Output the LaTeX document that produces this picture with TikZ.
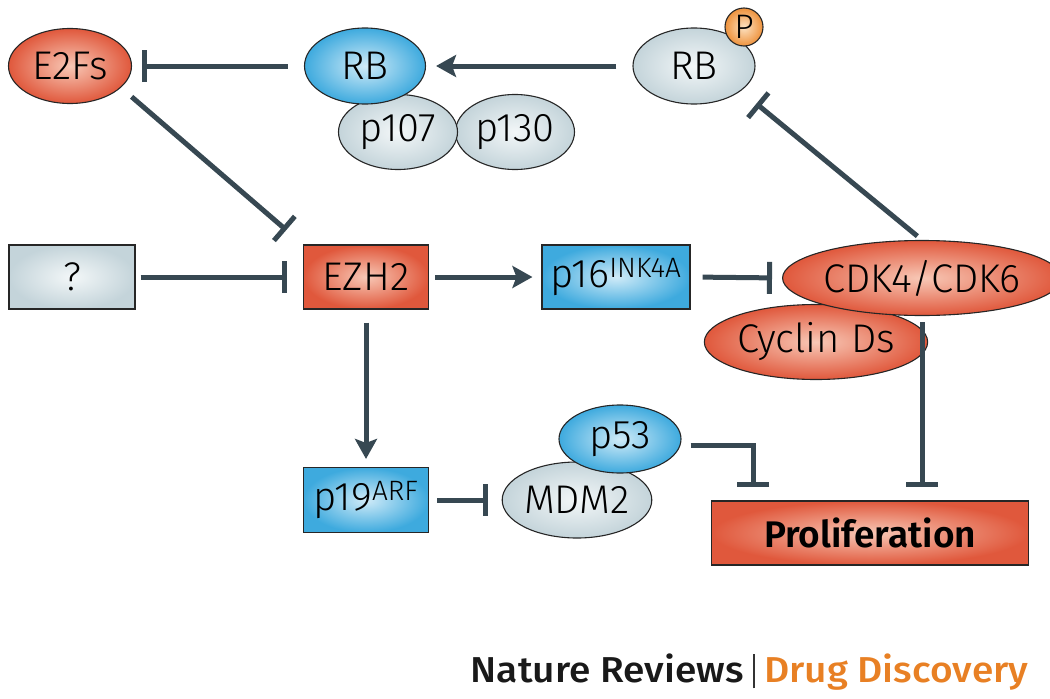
\documentclass[tikz,border=0pt]{standalone}
\usepackage{fontspec}
\setmainfont{Fira Sans}[UprightFont={* Light},BoldFont={* SemiBold}]
\newfontfamily\footfont{Fira Sans}[UprightFont={* Medium},FakeStretch=1.08]
\usetikzlibrary{shapes.geometric,arrows.meta}
\definecolor{lineclr}{RGB}{55,72,82}
\definecolor{redout}{RGB}{224,88,60}
\definecolor{redin}{RGB}{248,200,182}
\definecolor{blueout}{RGB}{62,170,222}
\definecolor{bluein}{RGB}{208,235,248}
\definecolor{grayout}{RGB}{196,212,218}
\definecolor{grayin}{RGB}{243,247,248}
\definecolor{pout}{RGB}{238,146,60}
\definecolor{pin}{RGB}{252,226,194}
\definecolor{ndorange}{RGB}{232,128,36}

\begin{document}
\begin{tikzpicture}
  [x=1pt,y=-1pt,
   every node/.style={draw=black!85,line width=1.1pt,inner sep=0pt,font=\fontsize{40}{42}\selectfont},
   ell/.style={ellipse},
   box/.style={rectangle},
   redfill/.style={inner color=redin,outer color=redout},
   bluefill/.style={inner color=bluein,outer color=blueout},
   grayfill/.style={inner color=grayin,outer color=grayout},
   act/.style={draw=lineclr,line width=5pt,-{Stealth[length=20pt,width=22pt,inset=4pt]}},
   inh/.style={draw=lineclr,line width=5pt,-{Bar[width=32pt]}}]
  \useasboundingbox (0,0) rectangle (1050,699);

  \node[ell,redfill,minimum width=123pt,minimum height=75pt] (e2f) at (70,66) {E2Fs};
  \node[ell,grayfill,minimum width=119pt,minimum height=75pt] (p130) at (515,132) {p130};
  \node[ell,grayfill,minimum width=119pt,minimum height=75pt] (p107) at (398,132) {p107};
  \node[ell,bluefill,minimum width=121pt,minimum height=76pt] (rb) at (365,66) {RB};
  \node[ell,grayfill,minimum width=122pt,minimum height=76pt] (rbp) at (694,66) {RB};
  \node[circle,inner color=pin,outer color=pout,minimum size=38pt,font=\fontsize{34}{36}\selectfont] (pho) at (744,27) {P};

  \node[box,grayfill,minimum width=126pt,minimum height=64pt] (q) at (72,277) {?};
  \node[box,redfill,minimum width=125pt,minimum height=64pt] (ezh) at (366,277) {EZH2};
  \node[box,bluefill,minimum width=148pt,minimum height=64pt] (p16) at (616,277) {p16\textsuperscript{INK4A}};
  \node[ell,redfill,minimum width=188pt,minimum height=75pt] (cyc) at (816,342) {Cyclin Ds};
  \node[ell,redfill,minimum width=235pt,minimum height=75pt] (cdk) at (922,278) {CDK4/CDK6};

  \node[box,bluefill,minimum width=125pt,minimum height=65pt] (p19) at (366,500) {p19\textsuperscript{ARF}};
  \node[ell,grayfill,minimum width=149pt,minimum height=76pt] (mdm) at (577,500) {MDM2};
  \node[ell,bluefill,minimum width=122pt,minimum height=68pt] (p53) at (620,439) {p53};
  \node[box,redfill,minimum width=317pt,minimum height=64pt,font=\fontsize{37}{39}\selectfont\bfseries] (prol) at (870,533) {Proliferation};

  \node[draw=none,anchor=base east,font=\footfont\fontsize{36}{38}\selectfont] (foot) at (1029,682)
    {\textcolor{black!90}{Nature Reviews} {\color{black!80}\rule[-0.18em]{1.2pt}{0.95em}} \textcolor{ndorange}{Drug Discovery}};

  \draw[act,shorten <=16pt,shorten >=10pt] (rbp.west) -- (rb.east);
  \draw[act,shorten <=6pt,shorten >=9pt] (ezh.east) -- (p16.west);
  \draw[act,shorten <=13pt,shorten >=8pt] (ezh.south) -- (p19.north);

  \foreach \from/\to/\s/\e in {rb.west/e2f.east/16pt/10pt,q.east/ezh.west/5pt/16pt,
                               p16.east/cdk.west/12pt/10pt,p19.east/mdm.west/8pt/14pt}
    \draw[inh,shorten <=\s,shorten >=\e] (\from) -- (\to);

  \draw[inh,shorten <=14pt,shorten >=22pt] (e2f.-23) -- (ezh.north west);
  \draw[inh,shorten <=6pt,shorten >=20pt] (cdk.north) -- (rbp.-28);
  \draw[inh,shorten <=9pt,shorten >=13pt] ([yshift=-6pt]p53.east) -| ([xshift=-117pt]prol.north);
  \draw[inh,shorten <=6pt,shorten >=13pt] (cdk.south) -- (cdk.south |- prol.north);
\end{tikzpicture}
\end{document}
